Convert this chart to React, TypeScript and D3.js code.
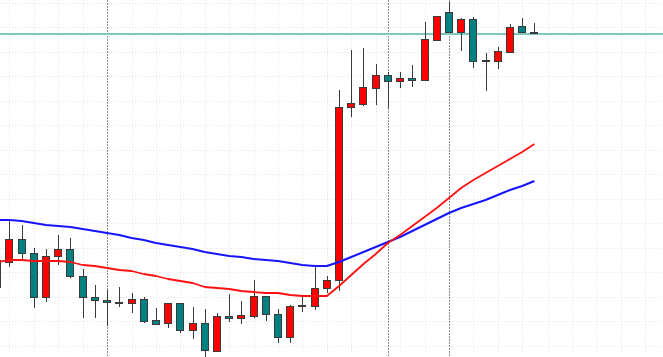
import React from 'react';
import * as d3 from 'd3';

const W = 663;
const H = 357;

// OHLC values (price units)
const opens = [70, 95, 118, 104, 60, 101, 108, 81, 60, 57, 55, 54, 58, 37, 34, 54, 27, 34, 6, 41, 39, 41, 61, 43, 20, 52, 51, 69, 77, 250, 253, 269, 282, 276, 279, 277, 317, 345, 325, 338, 297, 296, 305, 331, 325];
const highs = [102, 137, 132, 109, 108, 122, 119, 88, 72, 67, 70, 64, 60, 49, 54, 54, 50, 48, 44, 63, 56, 77, 61, 48, 52, 60, 90, 81, 267, 307, 309, 293, 285, 285, 292, 335, 341, 355, 339, 340, 304, 310, 333, 339, 334];
const lows = [65, 90, 97, 49, 55, 92, 79, 39, 39, 31, 50, 44, 34, 32, 29, 24, 18, 0, 5, 35, 33, 39, 36, 14, 14, 45, 47, 64, 66, 240, 251, 252, 249, 269, 270, 277, 317, 325, 306, 289, 266, 288, 305, 324, 323];
const closes = [97, 118, 104, 60, 101, 108, 81, 60, 57, 55, 54, 58, 36, 33, 54, 27, 34, 7, 41, 39, 42, 61, 43, 20, 51, 51, 69, 77, 250, 254, 270, 282, 276, 279, 277, 318, 341, 325, 338, 296, 296, 306, 330, 325, 324];

// Moving averages
const maSlow = [137, 137, 136, 134, 132, 131, 130, 128, 126, 124, 122, 119, 117, 114, 112, 110, 108, 105, 103, 101, 100, 98, 97, 96, 94, 92, 91, 91, 95, 100, 105, 110, 115, 120, 126, 132, 138, 144, 149, 153, 157, 162, 167, 171, 176];
const maFast = [95, 97, 97, 96, 96, 96, 95, 92, 91, 89, 87, 86, 83, 81, 78, 76, 74, 70, 69, 68, 66, 65, 64, 64, 62, 61, 61, 61, 71, 82, 93, 103, 114, 122, 131, 140, 149, 159, 169, 177, 184, 191, 198, 205, 213];

// Period separators (bar indices) and horizontal level
const separators = [9, 32, 37];
const levels = [324];

const BULL = '#ff0000';
const BEAR = '#008080';
const OUTLINE = '#3a3a3a';

export default function App() {
  const idx = d3.range(opens.length);
  const x = d3.scaleLinear().domain([0, opens.length - 1]).range([-2.8, 534.4]);
  const y = d3.scaleLinear().domain([0, 357]).range([H, 0]);

  const line = (vals: number[]) =>
    d3
      .line<number>()
      .x((_, i) => x(i))
      .y((v) => y(v))(vals) || '';

  const gridX = idx.filter((i) => i % 2 === 1).map((i) => Math.round(x(i)) + 0.5);
  const extraGridX = d3.range(Math.round(x(45)) + 0.5, W, 24.4);
  const gridY = d3.range(2.5, H, 24.5).map((v) => Math.round(v) + 0.5);

  return (
    <svg
      width={W}
      height={H}
      style={{ position: 'fixed', left: 0, top: 0, background: '#ffffff', display: 'block' }}
    >
      <rect x={0} y={0} width={W} height={H} fill="#ffffff" />
      <g>
        {[...gridX, ...extraGridX.map((v) => Math.round(v) + 0.5)].map((gx, k) => (
          <line key={'gx' + k} x1={gx} x2={gx} y1={0} y2={H} stroke="#e4e4e4" strokeWidth={1} strokeDasharray="1,2" />
        ))}
        {gridY.map((gy, k) => (
          <line key={'gy' + k} x1={0} x2={W} y1={gy} y2={gy} stroke="#e4e4e4" strokeWidth={1} strokeDasharray="1,2" />
        ))}
      </g>
      <g>
        {separators.map((s) => {
          const sx = Math.round(x(s)) + 0.5;
          return <line key={'s' + s} x1={sx} x2={sx} y1={0} y2={H} stroke="#8a8a8a" strokeWidth={1} strokeDasharray="2,1" />;
        })}
      </g>
      <g>
        {levels.map((l) => {
          const ly = Math.round(y(l)) + 1;
          return <line key={'l' + l} x1={0} x2={W} y1={ly} y2={ly} stroke="#7cc8bf" strokeWidth={2} />;
        })}
      </g>
      <g>
        {idx.map((i) => {
          const cx = Math.round(x(i));
          const o = opens[i];
          const c = closes[i];
          const bull = c > o;
          const top = Math.round(y(Math.max(o, c)));
          const bot = Math.round(y(Math.min(o, c)));
          const hgt = Math.max(1, bot - top);
          return (
            <g key={'c' + i}>
              <line
                x1={cx + 0.5}
                x2={cx + 0.5}
                y1={Math.round(y(highs[i]))}
                y2={Math.round(y(lows[i]))}
                stroke={OUTLINE}
                strokeWidth={1}
              />
              <rect
                x={cx - 3.5}
                y={top + 0.5}
                width={7}
                height={hgt}
                fill={bull ? BULL : BEAR}
                stroke={OUTLINE}
                strokeWidth={1}
              />
            </g>
          );
        })}
      </g>
      <path d={line(maSlow)} fill="none" stroke="#1414ff" strokeWidth={2} strokeLinejoin="round" />
      <path d={line(maFast)} fill="none" stroke="#ff1010" strokeWidth={1.8} strokeLinejoin="round" />
    </svg>
  );
}
